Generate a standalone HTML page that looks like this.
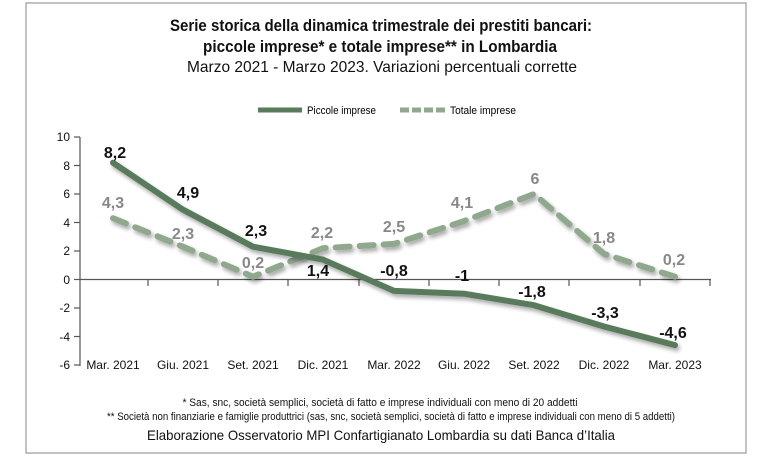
<!DOCTYPE html>
<html><head><meta charset="utf-8"><style>
html,body{margin:0;padding:0;background:#fff}
svg{display:block;font-family:"Liberation Sans Narrow","Liberation Sans",sans-serif}
</style></head><body>
<svg width="761" height="456" viewBox="0 0 761 456">
<defs><filter id="sh" x="-10%" y="-10%" width="120%" height="130%"><feGaussianBlur in="SourceAlpha" stdDeviation="2"/><feOffset dx="2" dy="3"/><feComponentTransfer><feFuncA type="linear" slope="0.35"/></feComponentTransfer><feMerge><feMergeNode/><feMergeNode in="SourceGraphic"/></feMerge></filter></defs>
<rect x="26" y="3" width="720" height="450" fill="#fff" stroke="#999" stroke-width="1.2"/>
<g text-anchor="middle" fill="#111">
<text x="381" y="31" font-size="17" font-weight="bold" textLength="422" lengthAdjust="spacingAndGlyphs">Serie storica della dinamica trimestrale dei prestiti bancari:</text>
<text x="380" y="52" font-size="17" font-weight="bold" textLength="354" lengthAdjust="spacingAndGlyphs">piccole imprese* e totale imprese** in Lombardia</text>
<text x="382" y="72" font-size="16" textLength="390" lengthAdjust="spacingAndGlyphs">Marzo 2021 - Marzo 2023. Variazioni percentuali corrette</text>
</g>
<line x1="258" y1="110" x2="302" y2="110" stroke="#5a7a5c" stroke-width="5"/>
<text x="307" y="114" font-size="11" textLength="69" lengthAdjust="spacingAndGlyphs">Piccole imprese</text>
<line x1="400" y1="110" x2="445" y2="110" stroke="#8fa88e" stroke-width="5" stroke-dasharray="9,3"/>
<text x="450" y="114" font-size="11" textLength="66" lengthAdjust="spacingAndGlyphs">Totale imprese</text>
<g stroke="#555" stroke-width="1.2">
<line x1="80" y1="137" x2="80" y2="366"/>
<line x1="80" y1="279.5" x2="711" y2="279.5"/>
<line x1="74" y1="137" x2="80" y2="137"/><line x1="74" y1="165.5" x2="80" y2="165.5"/><line x1="74" y1="194" x2="80" y2="194"/><line x1="74" y1="222.5" x2="80" y2="222.5"/><line x1="74" y1="251" x2="80" y2="251"/><line x1="74" y1="279.5" x2="80" y2="279.5"/><line x1="74" y1="308" x2="80" y2="308"/><line x1="74" y1="336.5" x2="80" y2="336.5"/><line x1="74" y1="365" x2="80" y2="365"/>
<line x1="148" y1="280" x2="148" y2="286"/><line x1="218" y1="280" x2="218" y2="286"/><line x1="288" y1="280" x2="288" y2="286"/><line x1="359" y1="280" x2="359" y2="286"/><line x1="429" y1="280" x2="429" y2="286"/><line x1="499" y1="280" x2="499" y2="286"/><line x1="569" y1="280" x2="569" y2="286"/><line x1="640" y1="280" x2="640" y2="286"/><line x1="710" y1="280" x2="710" y2="286"/>
</g>
<g font-size="12" text-anchor="end" fill="#111">
<text x="70" y="141">10</text><text x="70" y="170">8</text><text x="70" y="198">6</text><text x="70" y="227">4</text><text x="70" y="255">2</text><text x="70" y="284">0</text><text x="70" y="312">-2</text><text x="70" y="341">-4</text><text x="70" y="369">-6</text>
</g>
<g font-size="12" text-anchor="middle" fill="#111">
<text x="113" y="369">Mar. 2021</text><text x="183" y="369">Giu. 2021</text><text x="253" y="369">Set. 2021</text><text x="323" y="369">Dic. 2021</text><text x="394" y="369">Mar. 2022</text><text x="464" y="369">Giu. 2022</text><text x="534" y="369">Set. 2022</text><text x="604" y="369">Dic. 2022</text><text x="675" y="369">Mar. 2023</text>
</g>
<polyline filter="url(#sh)" fill="none" stroke="#8fa88e" stroke-width="6" stroke-linecap="round" stroke-linejoin="round" stroke-dasharray="14,10" points="113,218.2 183,246.7 253,276.7 323,248.2 394,243.9 464,221.1 534,194 604,253.9 675,276.7"/>
<polyline filter="url(#sh)" fill="none" stroke="#5a7a5c" stroke-width="6" stroke-linecap="round" stroke-linejoin="round" points="113,162.7 183,209.7 253,246.7 323,259.6 394,290.9 464,293.7 534,305.2 604,326.5 675,345.1"/>
<g font-size="16" font-weight="bold" text-anchor="middle" fill="#111">
<text x="115" y="158">8,2</text><text x="188" y="198">4,9</text><text x="256" y="236">2,3</text><text x="318" y="276">1,4</text><text x="394" y="276">-0,8</text><text x="462" y="281">-1</text><text x="532" y="297">-1,8</text><text x="605" y="318">-3,3</text><text x="673" y="338">-4,6</text>
</g>
<g font-size="16" font-weight="bold" text-anchor="middle" fill="#888">
<text x="113" y="208">4,3</text><text x="183" y="239">2,3</text><text x="253" y="268">0,2</text><text x="322" y="238">2,2</text><text x="394" y="232">2,5</text><text x="462" y="208">4,1</text><text x="535" y="184">6</text><text x="604" y="243">1,8</text><text x="674" y="265">0,2</text>
</g>
<g text-anchor="middle" fill="#111">
<text x="380" y="406" font-size="11" textLength="395" lengthAdjust="spacingAndGlyphs">* Sas, snc, società semplici, società di fatto e imprese individuali con meno di 20 addetti</text>
<text x="391" y="420" font-size="11" textLength="568" lengthAdjust="spacingAndGlyphs">** Società non finanziarie e famiglie produttrici (sas, snc, società semplici, società di fatto e imprese individuali con meno di 5 addetti)</text>
<text x="381" y="440" font-size="14" textLength="468" lengthAdjust="spacingAndGlyphs">Elaborazione Osservatorio MPI Confartigianato Lombardia su dati Banca d’Italia</text>
</g>
</svg>
</body></html>
